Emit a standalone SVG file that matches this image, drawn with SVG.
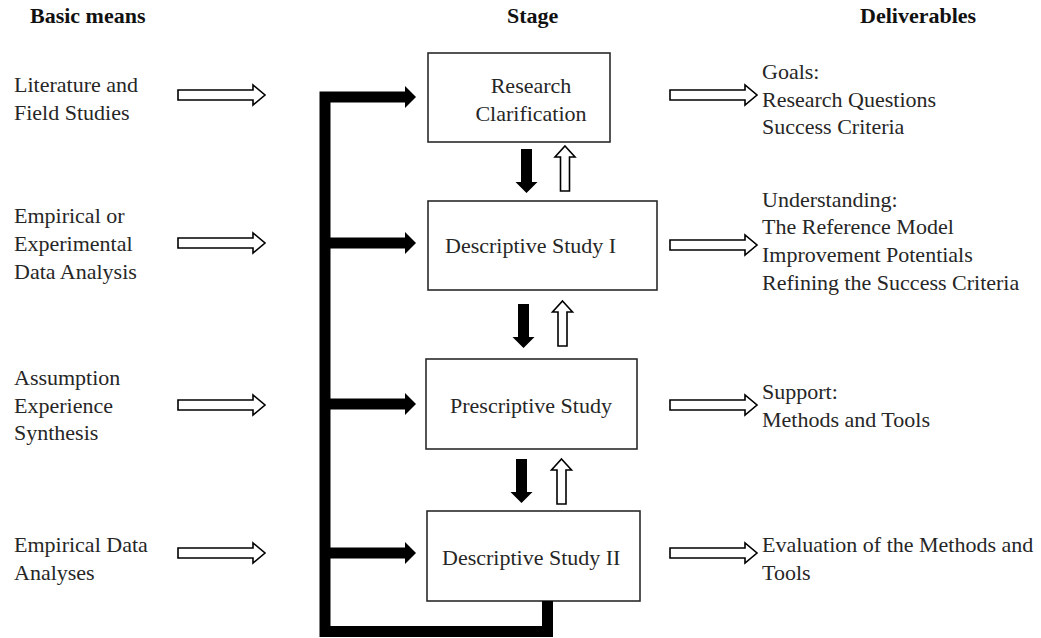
<svg xmlns="http://www.w3.org/2000/svg" xmlns:xlink="http://www.w3.org/1999/xlink" width="1041" height="638" viewBox="0 0 1041 638">
<style>
  text { font-family: "Liberation Serif", "Times New Roman", serif; font-size: 22px; fill: #262626; }
  .hdr { font-weight: bold; fill: #111; }
  .box { fill: #fff; stroke: #2a2a2a; stroke-width: 1.6; }
  .hollow { fill: #fff; stroke: #000; stroke-width: 1.6; stroke-linejoin: miter; }
  .solid { fill: #000; stroke: none; }
  .trunk { fill: none; stroke: #000; stroke-width: 11; stroke-linejoin: miter; stroke-linecap: butt; }
</style>
<defs>
  <polygon id="hr" points="0,-5 75,-5 75,-10 87,0 75,10 75,5 0,5"/>
  <polygon id="hu" points="0,0 10,11 4.5,11 4.5,45 -4.5,45 -4.5,11 -10,11"/>
  <polygon id="bd" points="-5.5,-44 5.5,-44 5.5,-11 11,-11 0,0 -11,-11 -5.5,-11"/>
  <polygon id="br" points="0,-11 11,0 0,11"/>
</defs>
<rect width="1041" height="638" fill="#fff"/>

<g id="headers">
  <text class="hdr" x="30" y="23">Basic means</text>
  <text class="hdr" x="507" y="23">Stage</text>
  <text class="hdr" x="860" y="23">Deliverables</text>
</g>

<g id="means">
  <text x="14" y="92">Literature and</text>
  <text x="14" y="120">Field Studies</text>
  <text x="14" y="223">Empirical or</text>
  <text x="14" y="251">Experimental</text>
  <text x="14" y="279">Data Analysis</text>
  <text x="14" y="385">Assumption</text>
  <text x="14" y="413">Experience</text>
  <text x="14" y="440">Synthesis</text>
  <text x="14" y="552">Empirical Data</text>
  <text x="14" y="580">Analyses</text>
</g>

<g id="node-research-clarification">
  <rect class="box" x="428" y="53" width="182" height="89"/>
  <text x="531" y="93" text-anchor="middle">Research</text>
  <text x="531" y="121" text-anchor="middle">Clarification</text>
</g>
<g id="node-descriptive-study-1">
  <rect class="box" x="428" y="201" width="229" height="89"/>
  <text x="445" y="253">Descriptive Study I</text>
</g>
<g id="node-prescriptive-study">
  <rect class="box" x="426" y="359" width="211" height="90"/>
  <text x="450" y="413">Prescriptive Study</text>
</g>
<g id="node-descriptive-study-2">
  <rect class="box" x="427" y="511" width="213" height="90"/>
  <text x="442" y="565">Descriptive Study II</text>
</g>

<g id="deliverables">
  <text x="762" y="79">Goals:</text>
  <text x="762" y="107">Research Questions</text>
  <text x="762" y="134">Success Criteria</text>
  <text x="762" y="207">Understanding:</text>
  <text x="762" y="234">The Reference Model</text>
  <text x="762" y="262">Improvement Potentials</text>
  <text x="762" y="290">Refining the Success Criteria</text>
  <text x="762" y="399">Support:</text>
  <text x="762" y="427">Methods and Tools</text>
  <text x="762" y="552">Evaluation of the Methods and</text>
  <text x="762" y="580">Tools</text>
</g>

<g id="connectors">
  <!-- feedback trunk -->
  <path class="trunk" d="M405,97 H325 V631.5 H547.5 V601"/>
  <path class="trunk" d="M325,243 H405 M325,404 H405 M325,553 H405"/>
  <use href="#br" xlink:href="#br" class="solid" x="405" y="97"/>
  <use href="#br" xlink:href="#br" class="solid" x="405" y="243"/>
  <use href="#br" xlink:href="#br" class="solid" x="405" y="404"/>
  <use href="#br" xlink:href="#br" class="solid" x="405" y="553"/>

  <!-- means to stage -->
  <use href="#hr" xlink:href="#hr" class="hollow" x="178" y="95"/>
  <use href="#hr" xlink:href="#hr" class="hollow" x="178" y="243"/>
  <use href="#hr" xlink:href="#hr" class="hollow" x="178" y="405"/>
  <use href="#hr" xlink:href="#hr" class="hollow" x="178" y="553"/>

  <!-- stage to deliverables -->
  <use href="#hr" xlink:href="#hr" class="hollow" x="670" y="95"/>
  <use href="#hr" xlink:href="#hr" class="hollow" x="670" y="245"/>
  <use href="#hr" xlink:href="#hr" class="hollow" x="670" y="405"/>
  <use href="#hr" xlink:href="#hr" class="hollow" x="670" y="553"/>

  <!-- between stages -->
  <use href="#bd" xlink:href="#bd" class="solid" x="526.5" y="193"/>
  <use href="#hu" xlink:href="#hu" class="hollow" x="565" y="146"/>
  <use href="#bd" xlink:href="#bd" class="solid" x="523.5" y="348"/>
  <use href="#hu" xlink:href="#hu" class="hollow" x="562.5" y="301"/>
  <use href="#bd" xlink:href="#bd" class="solid" x="521.5" y="503"/>
  <use href="#hu" xlink:href="#hu" class="hollow" x="561.5" y="459"/>
</g>
</svg>
